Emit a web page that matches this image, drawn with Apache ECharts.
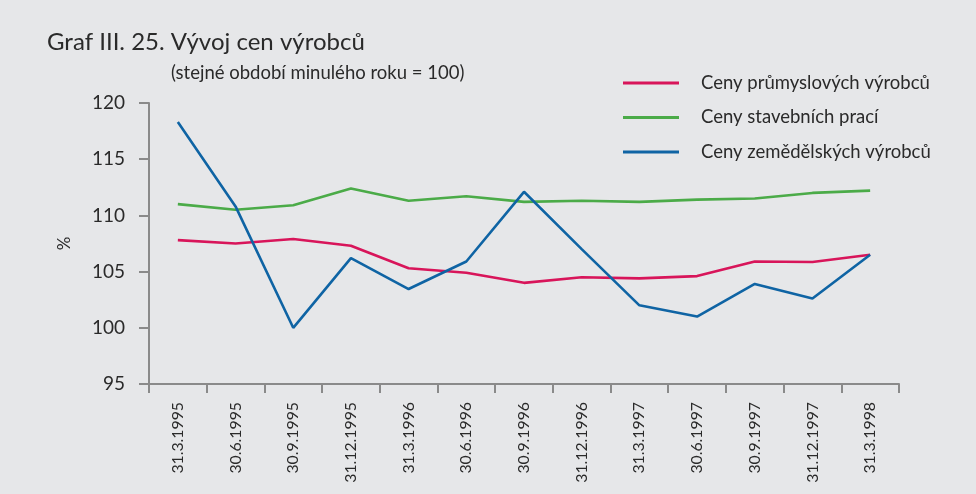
<!DOCTYPE html>
<html><head><meta charset="utf-8">
<script src="https://cdn.jsdelivr.net/npm/echarts@6/dist/echarts.min.js"></script>
<style>html,body{margin:0;padding:0;background:#e6e7e9;}#c{width:976px;height:494px;}</style>
</head><body><div id="c"></div>
<script>
var categories = ['31.3.1995','30.6.1995','30.9.1995','31.12.1995','31.3.1996','30.6.1996','30.9.1996','31.12.1996','31.3.1997','30.6.1997','30.9.1997','31.12.1997','31.3.1998'];
var industrial = [107.8,107.5,107.9,107.3,105.3,104.9,104.0,104.5,104.4,104.6,105.9,105.85,106.5];
var construction = [111.0,110.5,110.9,112.4,111.3,111.7,111.2,111.3,111.2,111.4,111.5,112.0,112.2];
var agricultural = [118.3,110.8,100.0,106.2,103.45,105.9,112.1,107.0,102.0,101.0,103.9,102.6,106.5];
var seriesNames = ['Ceny průmyslových výrobců','Ceny stavebních prací','Ceny zemědělských výrobců'];
var colors = ['#d8155a','#4bab48','#0f64a4'];
var font = 'Lato, "Open Sans", sans-serif';
var chart = echarts.init(document.getElementById('c'));
var data = [industrial, construction, agricultural];
chart.setOption({
  backgroundColor:'#e6e7e9',
  animation:false,
  title:[
    {text:'Graf III. 25. Vývoj cen výrobců', left:47, top:30, padding:0, textStyle:{fontFamily:font,fontSize:24,fontWeight:'normal',color:'#2a2a2a'}},
    {text:'(stejné období minulého roku = 100)', left:171, top:64, padding:0, textStyle:{fontFamily:font,fontSize:18.5,fontWeight:'normal',color:'#2a2a2a'}}
  ],
  legend:{
    orient:'vertical', left:623, top:73, padding:0, itemWidth:56, itemHeight:3, itemGap:14.5, icon:'rect',
    textStyle:{fontFamily:font,fontSize:18.5,color:'#2a2a2a',padding:[0,0,0,17],lineHeight:20},
    data:seriesNames
  },
  grid:{left:149,right:77,top:103,bottom:110},
  xAxis:{
    type:'category', data:categories, boundaryGap:true,
    axisLine:{lineStyle:{color:'#8a8a8a',width:2}},
    axisTick:{show:true,length:9,lineStyle:{color:'#8a8a8a',width:2}},
    axisLabel:{rotate:90,margin:18,fontFamily:font,fontSize:15.8,color:'#2a2a2a'}
  },
  yAxis:{
    type:'value', min:95, max:120, interval:5,
    name:'%', nameLocation:'middle', nameGap:76, nameRotate:90,
    nameTextStyle:{fontFamily:font,fontSize:17,color:'#2a2a2a'},
    axisLine:{show:true,lineStyle:{color:'#8a8a8a',width:2}},
    axisTick:{show:true,length:10,lineStyle:{color:'#8a8a8a',width:2}},
    axisLabel:{margin:24,fontFamily:font,fontSize:19,color:'#2a2a2a'},
    splitLine:{show:false}
  },
  series:seriesNames.map(function(n,i){return {
    name:n,type:'line',data:data[i],symbol:'none',color:colors[i],
    lineStyle:{width:2.6,color:colors[i]}
  };})
});
</script></body></html>
